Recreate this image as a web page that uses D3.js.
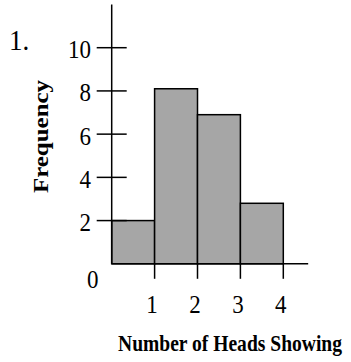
<!DOCTYPE html>
<html>
<head>
<meta charset="utf-8">
<script src="https://cdn.jsdelivr.net/npm/d3@7"></script>
<style>
  html, body { margin: 0; padding: 0; background: #ffffff; }
  svg { display: block; }
  text { font-family: "Liberation Serif", "Times New Roman", serif; fill: #000; }
</style>
</head>
<body>
<svg id="chart" width="351" height="362"></svg>
<script>
// ---- data ----
const binStarts = [0, 1, 2, 3];
const frequencies = [2, 8.1, 6.9, 2.8];
const yTickValues = [2, 4, 6, 8, 10];
const xTickValues = [1, 2, 3, 4];
const originLabel = "0";
const problemLabel = "1.";
const xTitle = "Number of Heads Showing";
const yTitle = "Frequency";

// ---- layout ----
const svg = d3.select("#chart");
const x = d3.scaleLinear().domain([0, 4]).range([111.7, 283.3]);
const y = d3.scaleLinear().domain([0, 10]).range([263.8, 47.7]);
const xMax = 4.58, yMax = 12;
const stroke = "#000", sw = 1.5;

// bars
svg.append("g").selectAll("rect").data(binStarts).join("rect")
  .attr("x", d => x(d))
  .attr("y", (d, i) => y(frequencies[i]))
  .attr("width", d => x(d + 1) - x(d))
  .attr("height", (d, i) => y(0) - y(frequencies[i]))
  .attr("fill", "#a6a6a6")
  .attr("stroke", stroke)
  .attr("stroke-width", sw);

// y axis line
svg.append("line")
  .attr("x1", x(0)).attr("x2", x(0))
  .attr("y1", y(0)).attr("y2", y(yMax))
  .attr("stroke", stroke).attr("stroke-width", sw);

// x axis line
svg.append("line")
  .attr("x1", x(0)).attr("x2", x(xMax))
  .attr("y1", y(0)).attr("y2", y(0))
  .attr("stroke", stroke).attr("stroke-width", sw);

// y ticks (cross the axis)
svg.append("g").selectAll("line").data(yTickValues).join("line")
  .attr("x1", x(0) - 15).attr("x2", x(0) + 15)
  .attr("y1", d => y(d)).attr("y2", d => y(d))
  .attr("stroke", stroke).attr("stroke-width", sw);

// x ticks (below axis)
svg.append("g").selectAll("line").data(xTickValues).join("line")
  .attr("x1", d => x(d)).attr("x2", d => x(d))
  .attr("y1", y(0)).attr("y2", y(0) + 15)
  .attr("stroke", stroke).attr("stroke-width", sw);

// y tick labels
svg.append("g").selectAll("text").data(yTickValues).join("text")
  .attr("transform", d => `translate(91,${y(d) + 10.5}) scale(1,1.1)`)
  .attr("text-anchor", "end")
  .attr("font-size", 23)
  .text(d => d);

// origin label
svg.append("text")
  .attr("transform", `translate(${x(0) - 19},${y(0) + 24.5}) scale(1,1.1)`)
  .attr("text-anchor", "middle")
  .attr("font-size", 23)
  .text(originLabel);

// x tick labels
svg.append("g").selectAll("text").data(xTickValues).join("text")
  .attr("transform", d => `translate(${x(d) - 2.5},312.5) scale(1,1.1)`)
  .attr("text-anchor", "middle")
  .attr("font-size", 23)
  .text(d => d);

// problem number
svg.append("text")
  .attr("transform", "translate(9,50) scale(1,1.1)")
  .attr("font-size", 27)
  .text(problemLabel);

// x title
svg.append("text")
  .attr("transform", "translate(230,351) scale(1,1.15)")
  .attr("text-anchor", "middle")
  .attr("font-size", 20)
  .attr("font-weight", "bold")
  .attr("textLength", 224)
  .attr("lengthAdjust", "spacingAndGlyphs")
  .text(xTitle);

// y title
svg.append("text")
  .attr("transform", "translate(48,136.5) rotate(-90)")
  .attr("text-anchor", "middle")
  .attr("font-size", 21.5)
  .attr("font-weight", "bold")
  .attr("textLength", 113)
  .attr("lengthAdjust", "spacingAndGlyphs")
  .text(yTitle);
</script>
</body>
</html>
